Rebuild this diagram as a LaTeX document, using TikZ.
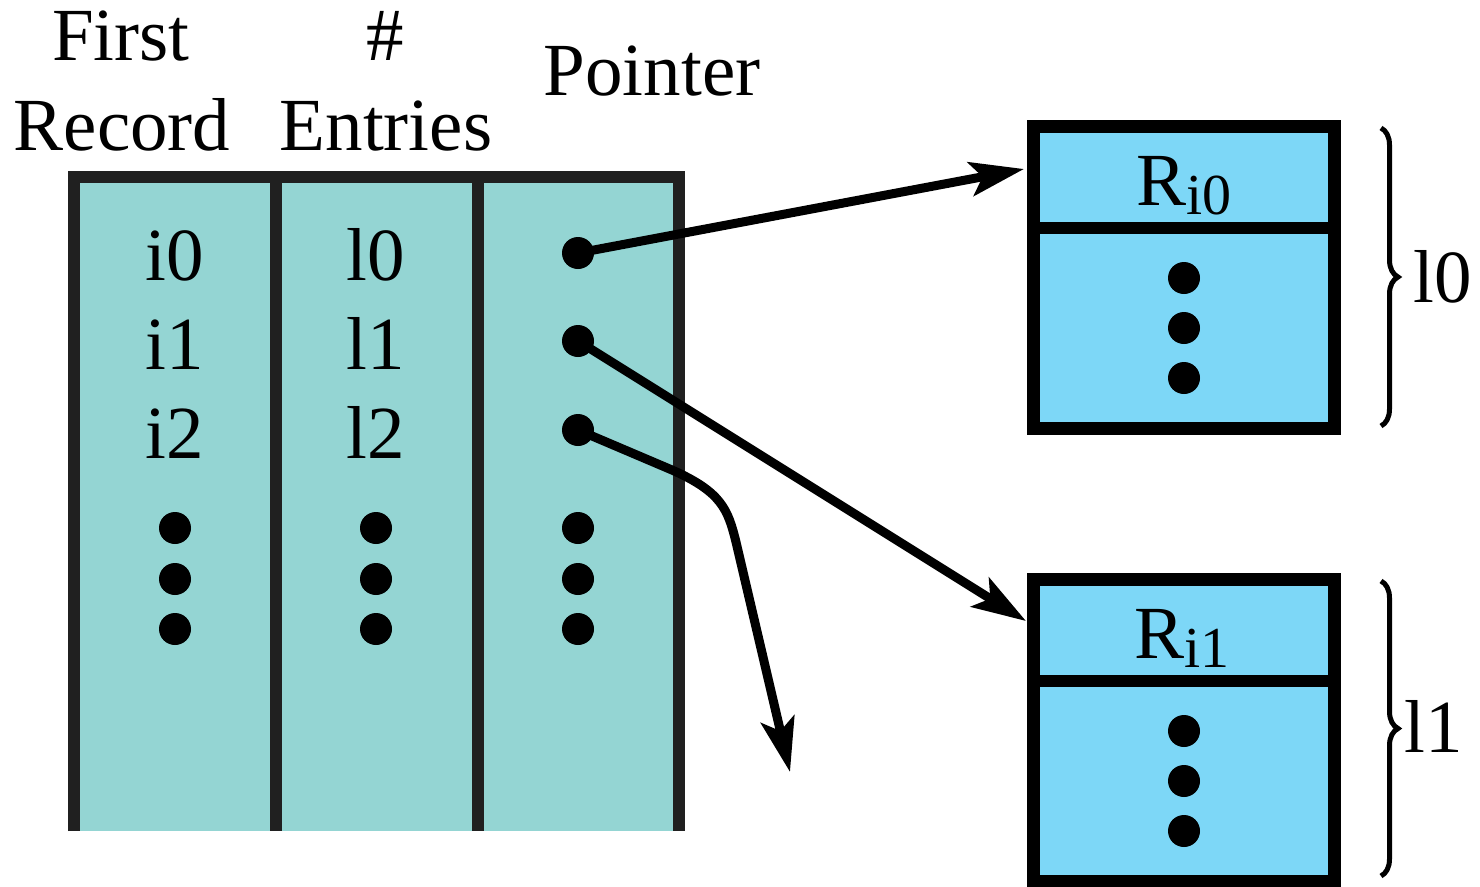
\documentclass[tikz,border=0pt]{standalone}
\usepackage{fontspec}
\setmainfont{Liberation Serif}
\usetikzlibrary{arrows.meta,decorations.pathreplacing}
\definecolor{tablefill}{HTML}{94D5D3}
\definecolor{tableline}{HTML}{202020}
\definecolor{recfill}{HTML}{7DD7F7}
\tikzset{
  big/.style={font=\fontsize{75}{90}\selectfont, inner sep=0pt, anchor=base},
  dot/.style={circle, fill=black, minimum size=32pt, inner sep=0pt},
  frame/.style={line width=12pt, draw=tableline},
  recbox/.style={line width=13pt, draw=black, fill=recfill},
  ptr/.style={line width=9pt, draw=black, -{Stealth[length=54pt, width=34pt, inset=12pt]}},
  brc/.style={line width=5pt, decorate, decoration={brace, amplitude=17pt}},
}
\newcommand{\recname}[1]{R\raisebox{-9pt}{\fontsize{58}{60}\selectfont #1}}
\begin{document}
\begin{tikzpicture}[x=1pt, y=-1pt]
\useasboundingbox (0,0) rectangle (1480,886);

% column headings
\node[big] (h1a) at (121,60) {First};
\node[big] (h1b) at (122,150) {Record};
\node[big] (h2a) at (385,60) {\#};
\node[big] (h2b) at (386,150) {Entries};
\node[big] (h3) at (652,95) {Pointer};

% index table
\fill[tablefill] (74,177) rectangle (679,831);
\draw[frame, line join=miter] (74,831) -- (74,177) -- (679,177) -- (679,831);
\draw[frame] (276,177) -- (276,831);
\draw[frame] (478,177) -- (478,831);

% table entries
\node[big] (i0) at (175,280) {i0};
\node[big] (i1) at (175,369) {i1};
\node[big] (i2) at (175,458) {i2};
\node[big] (l0) at (376,280) {l0};
\node[big] (l1) at (376,369) {l1};
\node[big] (l2) at (376,458) {l2};
\node[dot] (p0) at (578,253) {};
\node[dot] (p1) at (578,341) {};
\node[dot] (p2) at (578,430) {};
\foreach \c/\x in {a/175,b/376,c/578}{
  \node[dot] (d\c1) at (\x,528) {};
  \node[dot] (d\c2) at (\x,579) {};
  \node[dot] (d\c3) at (\x,629) {};
}

% record blocks
\draw[recbox] (1033.5,126.5) rectangle (1334.5,428.5);
\draw[line width=12pt] (1027,227.5) -- (1341,227.5);
\node[big] (r0) at (1184,205) {\recname{i0}};
\node[dot] (e01) at (1184,278) {};
\node[dot] (e02) at (1184,328) {};
\node[dot] (e03) at (1184,378) {};

\draw[recbox] (1033.5,579.5) rectangle (1334.5,881.5);
\draw[line width=12pt] (1027,680.5) -- (1341,680.5);
\node[big] (r1) at (1182,658) {\recname{i1}};
\node[dot] (e11) at (1184,731) {};
\node[dot] (e12) at (1184,781) {};
\node[dot] (e13) at (1184,831) {};

% block sizes
\coordinate (b0t) at (1381,128);
\coordinate (b0b) at (1381,426);
\coordinate (b1t) at (1381,581);
\coordinate (b1b) at (1381,876);
\draw[brc] (b0t) -- (b0b);
\draw[brc] (b1t) -- (b1b);
\node[big] (n0) at (1443,302) {l0};
\node[big] (n1) at (1434,752) {l1};

% pointers
\coordinate (t0) at (1024,169);
\coordinate (t1) at (1026,621);
\coordinate (t2) at (790,772);
\draw[ptr] (p0.center) -- (t0);
\draw[ptr] (p1.center) -- (t1);
\draw[ptr] (p2.center) -- (672,470) .. controls (722,492) and (728,510) .. (736,542) -- (t2);
\end{tikzpicture}
\end{document}
